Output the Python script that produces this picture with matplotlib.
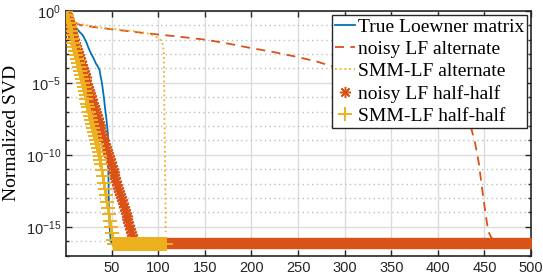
import numpy as np
import matplotlib
matplotlib.use('Agg')
import matplotlib.pyplot as plt
from matplotlib.ticker import FixedLocator, NullFormatter

# ── Data (log10 of normalized singular values) ────────────────────────────
# True Loewner matrix (line)
true_x = [1, 3, 5, 8, 10, 12, 14, 16, 18, 20, 21, 23, 25, 27, 29, 31, 33,
          35, 37, 38, 39, 40, 41, 42, 43, 44, 45, 46, 47, 48, 49, 50, 500]
true_log = [0, -0.30, -0.55, -0.85, -1.05, -1.20, -1.35, -1.50, -1.62,
            -1.80, -1.95, -2.20, -2.55, -2.85, -3.10, -3.35, -3.65, -3.85,
            -4.10, -4.50, -4.80, -5.20, -5.70, -6.20, -6.80, -7.30, -7.90,
            -8.60, -13.70, -15.20, -15.90, -16.10, -16.10]

# noisy LF alternate (dashed)
nalt_x = [1, 2, 4, 7, 10, 16, 30, 48, 70, 88, 120, 152, 175, 198, 225, 248,
          270, 288, 310, 330, 355, 380, 400, 415, 428, 436, 440, 444, 449,
          454, 457, 460, 470, 500]
nalt_log = [0, -0.30, -0.55, -0.72, -0.80, -0.99, -1.12, -1.27, -1.43, -1.57,
            -1.78, -2.02, -2.28, -2.57, -2.88, -3.19, -3.52, -3.89, -4.30,
            -4.70, -5.20, -5.80, -6.40, -7.00, -7.60, -8.20, -9.20, -10.60,
            -13.10, -15.30, -15.70, -15.95, -16.10, -16.10]

# SMM-LF alternate (dotted)
salt_x = [1, 2, 4, 7, 12, 20, 37, 50, 66, 80, 90, 96, 100, 102, 104, 105,
          106, 107, 108]
salt_log = [0, -0.35, -0.60, -0.75, -0.87, -0.97, -1.15, -1.25, -1.36, -1.46,
            -1.60, -1.75, -1.90, -2.00, -2.20, -2.38, -2.96, -9.00, -15.35]

# noisy LF half-half (markers at every index 1..500)
nhh_decay = [0, -0.24, -0.45, -0.68, -0.90, -1.11, -1.33, -1.56, -1.77, -1.99,
             -2.21, -2.43, -2.65, -2.87, -3.08, -3.31, -3.52, -3.74, -3.96,
             -4.18, -4.40, -4.62, -4.84, -5.06, -5.27, -5.50, -5.71, -5.93,
             -6.15, -6.37, -6.59, -6.81, -7.03, -7.25, -7.46, -7.69, -7.90,
             -8.12, -8.34, -8.56, -8.78, -9.00, -9.22, -9.43, -9.65, -9.87,
             -10.09, -10.31, -10.53, -10.75, -10.97, -11.18, -11.40, -11.62,
             -11.84, -12.06, -12.28, -12.50, -12.71, -12.93, -13.15, -13.37,
             -13.59, -13.81, -14.03, -14.24, -14.46, -14.68, -14.90, -15.12,
             -15.34, -15.55, -15.77, -15.98]
nhh_floor = [-16.15] * (500 - len(nhh_decay))
nhh_log = nhh_decay + nhh_floor

# SMM-LF half-half (markers at every index 1..108)
shh_decay = [0, -0.27, -0.55, -0.84, -1.11, -1.40, -1.67, -1.96, -2.23, -2.52,
             -2.79, -3.08, -3.35, -3.64, -3.91, -4.20, -4.47, -4.76, -5.03,
             -5.32, -5.59, -5.88, -6.15, -6.44, -6.71, -7.00, -7.27, -7.56,
             -7.83, -8.12, -8.39, -8.68, -8.95, -9.24, -9.51, -9.80, -10.07,
             -10.36, -10.64, -11.05, -11.48, -11.93, -12.36, -12.81, -13.24,
             -13.69, -14.12, -14.57, -15.00, -15.45, -15.88]
shh_floor = [-16.20] * (108 - len(shh_decay))
shh_log = shh_decay + shh_floor

labels = ['True Loewner matrix', 'noisy LF alternate', 'SMM-LF alternate',
          'noisy LF half-half', 'SMM-LF half-half']

# ── Style ──────────────────────────────────────────────────────────────────
C_BLUE = '#0072BD'
C_ORANGE = '#D95319'
C_YELLOW = '#EDB120'
SERIF = ['Liberation Serif', 'DejaVu Serif']
SANS = ['Liberation Sans', 'DejaVu Sans']

plt.rcParams['font.family'] = SANS
plt.rcParams['mathtext.fontset'] = 'custom'
plt.rcParams['mathtext.rm'] = 'Liberation Sans'
plt.rcParams['mathtext.it'] = 'Liberation Sans:italic'

fig = plt.figure(figsize=(5.43, 2.76), dpi=100)
ax = fig.add_axes([0.1215, 0.0736, 0.8565, 0.8874])

ax.plot(true_x, 10.0 ** np.array(true_log), color=C_BLUE, lw=1.3,
        label=labels[0], zorder=3)
ax.plot(nalt_x, 10.0 ** np.array(nalt_log), color=C_ORANGE, lw=1.3,
        ls=(0, (5, 3.5)), label=labels[1], zorder=3)
ax.plot(salt_x, 10.0 ** np.array(salt_log), color=C_YELLOW, lw=1.3,
        ls=(0, (1, 1.6)), label=labels[2], zorder=3)
ax.plot(np.arange(1, len(nhh_log) + 1), 10.0 ** np.array(nhh_log),
        ls='none', marker=(8, 2, 0), ms=8, mew=1.1, color=C_ORANGE,
        label=labels[3], zorder=4)
ax.plot(np.arange(1, len(shh_log) + 1), 10.0 ** np.array(shh_log),
        ls='none', marker='+', ms=10, mew=1.4, color=C_YELLOW,
        label=labels[4], zorder=5)

ax.set_yscale('log')
ax.set_xlim(1, 500)
ax.set_ylim(1e-17, 1)
ax.set_xticks(np.arange(50, 501, 50))
ax.yaxis.set_major_locator(FixedLocator([1e-15, 1e-10, 1e-5, 1]))
ax.yaxis.set_minor_locator(FixedLocator([10.0 ** k for k in range(-17, 1)]))
ax.yaxis.set_minor_formatter(NullFormatter())

ax.grid(True, which='major', axis='both', color='#dcdcdc', lw=1.0, zorder=0)
ax.grid(True, which='minor', axis='y', color='#bdbdbd', lw=1.0,
        ls=(0, (1.0, 2.4)), zorder=0)
ax.set_axisbelow(True)

ax.tick_params(which='both', direction='in', top=True, right=True,
               labelsize=10.5, colors='#262626', width=1.0)
ax.tick_params(which='major', length=4)
ax.tick_params(which='minor', length=2.5)
for s in ax.spines.values():
    s.set_linewidth(1.2)
    s.set_color('#262626')

ax.set_ylabel('Normalized SVD', fontsize=14, family=SERIF, labelpad=4)

leg = ax.legend(loc='upper right', prop={'family': SERIF, 'size': 14},
                frameon=True, fancybox=False, edgecolor='#262626',
                framealpha=1, borderpad=0.15, labelspacing=0.24,
                handlelength=1.0, handletextpad=0.15, borderaxespad=0.22,
                numpoints=1)
leg.get_frame().set_linewidth(1.0)

fig.savefig('out.png', dpi=100)
